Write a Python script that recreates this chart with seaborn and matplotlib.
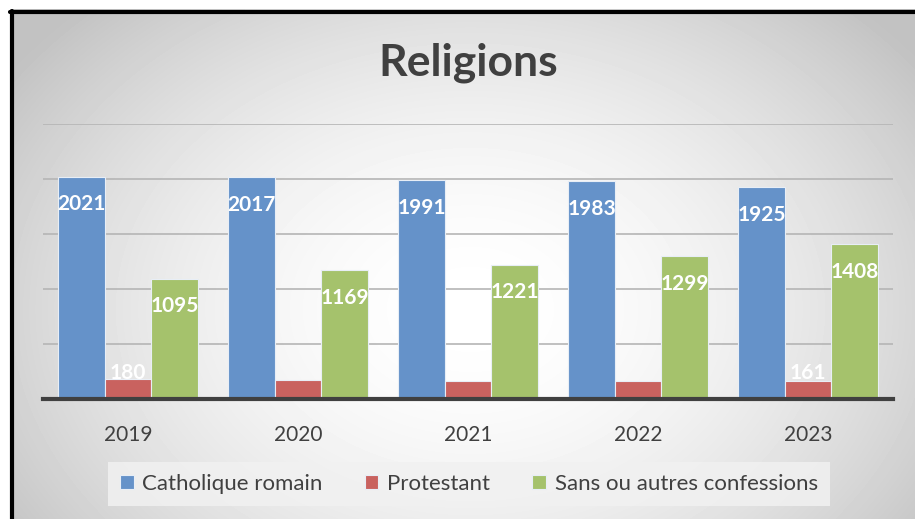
import matplotlib
matplotlib.use('Agg')
import matplotlib.pyplot as plt
import seaborn as sns
import pandas as pd
import numpy as np

years = ['2019', '2020', '2021', '2022', '2023']
catholique = [2021, 2017, 1991, 1983, 1925]
protestant = [180, 172, 163, 165, 161]
sans = [1095, 1169, 1221, 1299, 1408]
series = ['Catholique romain', 'Protestant', 'Sans ou autres confessions']
colors = ['#6592c9', '#c9625f', '#a5c26c']
# which protestant labels are shown in the original
shown_prot = ['2019', '2023']

data = pd.DataFrame({
    'year': years * 3,
    'value': catholique + protestant + sans,
    'serie': [series[0]] * 5 + [series[1]] * 5 + [series[2]] * 5,
})

sns.set_theme(style='white')
plt.rcParams['font.family'] = ['Lato', 'DejaVu Sans']

W, H = 915, 519
fig = plt.figure(figsize=(W / 100, H / 100), dpi=100)
fig.patch.set_facecolor('white')

# gradient background inside the frame
bg = fig.add_axes([10 / W, 0, 1 - 10 / W, 1 - 9 / H])
yy, xx = np.mgrid[0:510, 0:905]
r = np.sqrt(((xx - 460) / 560.0) ** 2 + ((yy - 300) / 420.0) ** 2)
shade = 1 - 0.24 * np.clip(r, 0, 1) ** 1.8
bg.imshow(shade, cmap='gray', vmin=0, vmax=1, aspect='auto', extent=[0, 1, 0, 1])
bg.plot([0.002, 0.002], [0, 0.997], color='black', lw=3, transform=bg.transAxes, clip_on=False)
bg.plot([0.0, 1], [0.994, 0.994], color='black', lw=3, transform=bg.transAxes, clip_on=False)
bg.set_xlim(0, 1)
bg.set_ylim(0, 1)
bg.axis('off')

ax = fig.add_axes([43 / W, 120 / H, 850 / W, 275 / H])
ax.patch.set_alpha(0)
sns.barplot(data=data, x='year', y='value', hue='serie', palette=colors, saturation=1,
            width=0.82, ax=ax, edgecolor='#e8eef6', linewidth=0.8, legend=True)
ax.set_ylim(0, 2500)
ax.set_xlim(-0.5, 4.5)
ax.set_yticks(range(0, 2501, 500))
ax.yaxis.grid(True, color='#b5b5b5', lw=1.2)
ax.set_axisbelow(True)
ax.tick_params(axis='y', left=False, labelleft=False)
ax.tick_params(axis='x', bottom=False, labelsize=15, colors='#404040', pad=13)
for s in ['top', 'right', 'left']:
    ax.spines[s].set_visible(False)
ax.spines['bottom'].set_color('#404040')
ax.spines['bottom'].set_linewidth(3)
ax.set_xlabel('')
ax.set_ylabel('')

# data labels
for ci, cont in enumerate(ax.containers):
    for yi, bar in enumerate(cont):
        v = bar.get_height()
        if ci == 1 and years[yi] not in shown_prot:
            continue
        xc = bar.get_x() + bar.get_width() / 2
        if v > 500:
            ax.annotate(f'{int(v)}', (xc, v), xytext=(0, -20), textcoords='offset points',
                        ha='center', va='center', color='white', fontsize=15, fontweight='bold')
        else:
            ax.annotate(f'{int(v)}', (xc, 0), xytext=(0, 19), textcoords='offset points',
                        ha='center', va='center', color='white', fontsize=15, fontweight='bold')

leg = ax.legend(loc='center', bbox_to_anchor=(469 / W, 1 - 484 / H), bbox_transform=fig.transFigure,
                ncol=3, frameon=True, fontsize=16, handlelength=0.6, handleheight=0.6,
                columnspacing=1.9, handletextpad=0.4, borderpad=0.55, fancybox=False)
leg.get_frame().set_facecolor('#f1f1f1')
leg.get_frame().set_edgecolor('none')
leg.get_frame().set_alpha(0.85)
for t in leg.get_texts():
    t.set_color('#404040')

fig.text(468 / W, 1 - 63 / H, 'Religions', ha='center', va='center',
         fontsize=32, fontweight='bold', color='#404040')

fig.savefig('out.png', dpi=100)
